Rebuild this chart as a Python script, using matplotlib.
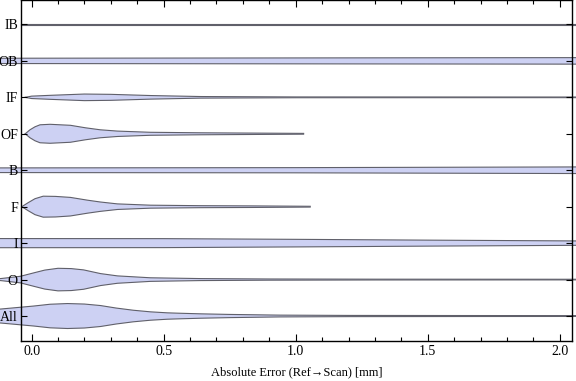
import matplotlib.pyplot as plt
from matplotlib.ticker import MultipleLocator

plt.rcParams["font.family"] = ["Liberation Serif", "DejaVu Serif"]

# categories from bottom to top
categories = ["All", "O", "I", "F", "B", "OF", "IF", "OB", "IB"]

# violin outlines: error [mm] and half width [px]
all_x = [-0.35, -0.117, 0.008, 0.07, 0.136, 0.2, 0.261, 0.32, 0.385, 0.45, 0.514, 0.56, 0.64, 0.75, 0.94, 1.2, 1.6, 2.2]
all_w = [4.0, 7.0, 10.0, 11.8, 12.5, 12.0, 10.5, 8.0, 5.8, 4.2, 3.2, 2.8, 2.2, 1.6, 0.9, 0.6, 0.5, 0.4]

o_x = [-0.3, -0.117, -0.042, 0.008, 0.05, 0.1, 0.15, 0.197, 0.261, 0.325, 0.45, 0.64, 0.9, 1.3, 2.2]
o_w = [0.3, 1.0, 3.3, 6.7, 9.5, 11.3, 11.0, 9.7, 6.0, 3.7, 1.8, 1.0, 0.6, 0.4, 0.3]

i_x = [-0.3, 0.5, 1.0, 1.5, 2.2]
i_w = [4.6, 4.5, 3.8, 3.0, 2.0]

f_x = [-0.037, -0.013, 0.013, 0.044, 0.09, 0.147, 0.212, 0.26, 0.325, 0.45, 0.64, 0.83, 1.055]
f_w = [0.0, 4.0, 8.0, 10.5, 10.3, 9.3, 6.5, 4.7, 2.8, 1.5, 1.0, 0.8, 0.4]

b_x = [-0.3, 1.0, 2.2]
b_w = [2.3, 2.6, 3.4]

of_x = [-0.024, -0.006, 0.013, 0.032, 0.07, 0.147, 0.204, 0.26, 0.325, 0.45, 0.64, 0.83, 1.03]
of_w = [0.0, 4.0, 7.0, 9.0, 9.5, 8.5, 6.0, 4.0, 2.7, 1.5, 1.0, 0.7, 0.4]

if_x = [-0.024, 0.0, 0.07, 0.2, 0.3, 0.45, 0.64, 1.0, 2.2]
if_w = [0.0, 1.2, 2.0, 3.3, 3.0, 1.8, 0.8, 0.4, 0.3]

ob_x = [-0.3, 2.2]
ob_w = [2.6, 3.3]

ib_x = [-0.041, 2.2]
ib_w = [0.3, 0.3]

violins = [(all_x, all_w), (o_x, o_w), (i_x, i_w), (f_x, f_w), (b_x, b_w),
           (of_x, of_w), (if_x, if_w), (ob_x, ob_w), (ib_x, ib_w)]

px_per_unit = 36.5

fig = plt.figure(figsize=(5.76, 3.81), dpi=100)
ax = fig.add_axes([0.036, 0.105, 0.957, 0.894])

for pos, (xs, ws) in enumerate(violins, start=1):
    hw = [w / px_per_unit for w in ws]
    lo = [pos - h for h in hw]
    hi = [pos + h for h in hw]
    ax.fill_between(xs, lo, hi, facecolor="#cdd1f3", edgecolor="none", clip_on=False, zorder=1)
    ax.plot(xs, hi, color="#60606a", lw=0.8, clip_on=False, zorder=1.5)
    ax.plot(xs, lo, color="#60606a", lw=0.8, clip_on=False, zorder=1.5)

ax.set_xlim(-0.041, 2.046)
ax.set_ylim(0.315, 9.66)
ax.set_yticks(range(1, len(categories) + 1))
ax.set_yticklabels(categories)
ax.xaxis.set_major_locator(MultipleLocator(0.5))
ax.xaxis.set_minor_locator(MultipleLocator(0.1))
ax.xaxis.set_major_formatter(plt.FuncFormatter(lambda v, p: f"{v:.1f}"))

ax.tick_params(axis="both", which="both", direction="in", top=True, right=True,
               labelsize=10, width=0.8, colors="black")
ax.tick_params(axis="x", which="major", length=5, pad=3)
ax.tick_params(axis="x", which="minor", length=3)
ax.tick_params(axis="y", length=4, pad=2)
ax.xaxis.set_zorder(5)
ax.yaxis.set_zorder(5)
for s in ax.spines.values():
    s.set_linewidth(1.0)
    s.set_zorder(5)

ax.set_xlabel("Absolute Error (Ref\u2192Scan) [mm]", fontsize=9, labelpad=6)

fig.savefig("out.png", dpi=100)
